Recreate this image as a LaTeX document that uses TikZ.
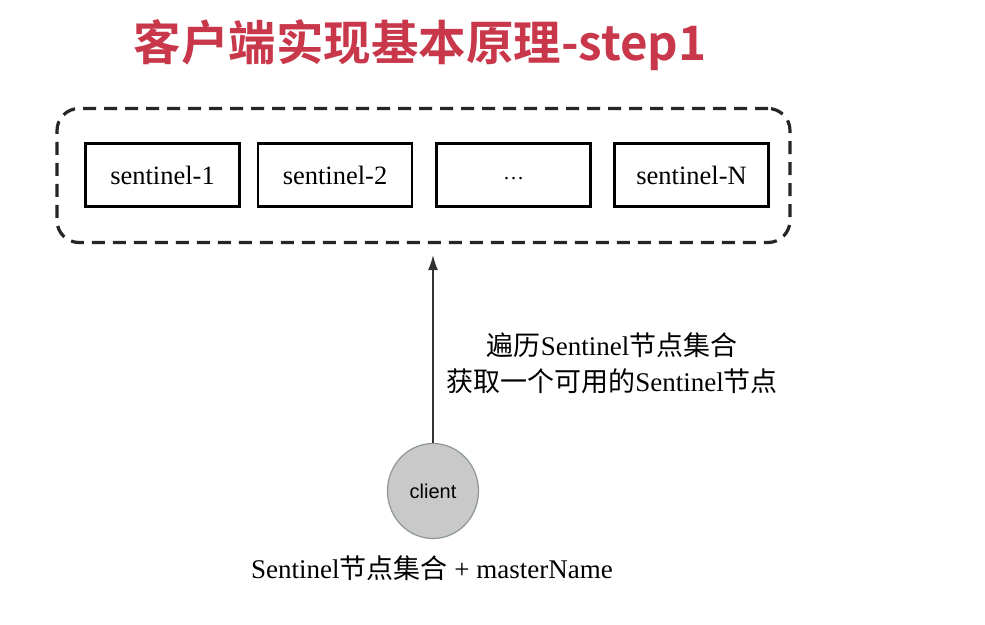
\documentclass[tikz,border=0pt]{standalone}
\usepackage{fontspec}
\setmainfont{Liberation Serif}
\newfontfamily\cjk{Noto Sans CJK SC}
\newfontfamily\titlefont{Noto Sans CJK SC Bold}
\newfontfamily\clientfont{Liberation Sans}
\usetikzlibrary{arrows.meta,positioning,shapes.geometric}
\definecolor{titlered}{HTML}{C8374A}
\definecolor{clientfill}{HTML}{C9C9C9}
\definecolor{clientline}{HTML}{8C969B}
\definecolor{arrowgray}{HTML}{333333}
\tikzset{
  sbox/.style={draw=black,line width=2.2pt,minimum width=154pt,minimum height=63pt,inner sep=0pt,font=\fontsize{26.5}{30}\selectfont},
  outerbox/.style={draw=black!85,line width=3.2pt,dash pattern=on 13pt off 8pt,rounded corners=22pt,minimum width=733pt,minimum height=134pt,inner sep=0pt},
  clientnode/.style={ellipse,draw=clientline,fill=clientfill,line width=1.2pt,minimum width=91pt,minimum height=95pt,inner sep=0pt,font=\clientfont\fontsize{20}{24}\selectfont},
  lbl/.style={font=\fontsize{27}{36}\selectfont,align=center,inner sep=0pt},
}
\begin{document}
\begin{tikzpicture}[x=1pt,y=-1pt]
\useasboundingbox (0,0) rectangle (985,624);
\fill[white] (0,0) rectangle (985,624);
\node[text=titlered,font=\titlefont\fontsize{47.5}{52}\selectfont,inner sep=0pt] (title) at (420,45) {客户端实现基本原理-step1};
\node[outerbox] (outer) at (423.5,175.5) {};
\node[sbox] (s1) at (162.5,175) {sentinel-1};
\node[sbox] (s2) at (335,175) {sentinel-2};
\node[sbox,text height=0pt,text depth=0pt] (s3) at (513.5,175) {\raisebox{-4pt}{\fontsize{21}{24}\selectfont\textellipsis}};
\node[sbox] (sN) at (691.5,175) {sentinel-N};
\node[clientnode] (client) at (433,491) {client};
\coordinate (tip) at (433,255);
\draw[arrowgray,line width=1.6pt,-{Latex[length=15pt,width=10pt]}] (client.north) -- (tip);
\node[lbl] (note) at (612,363) {{\cjk 遍历}Sentinel{\cjk 节点集合}\\{\cjk 获取一个可用的}Sentinel{\cjk 节点}};
\node[lbl] (input) at (432,568) {Sentinel{\cjk 节点集合} + masterName};
\end{tikzpicture}
\end{document}
